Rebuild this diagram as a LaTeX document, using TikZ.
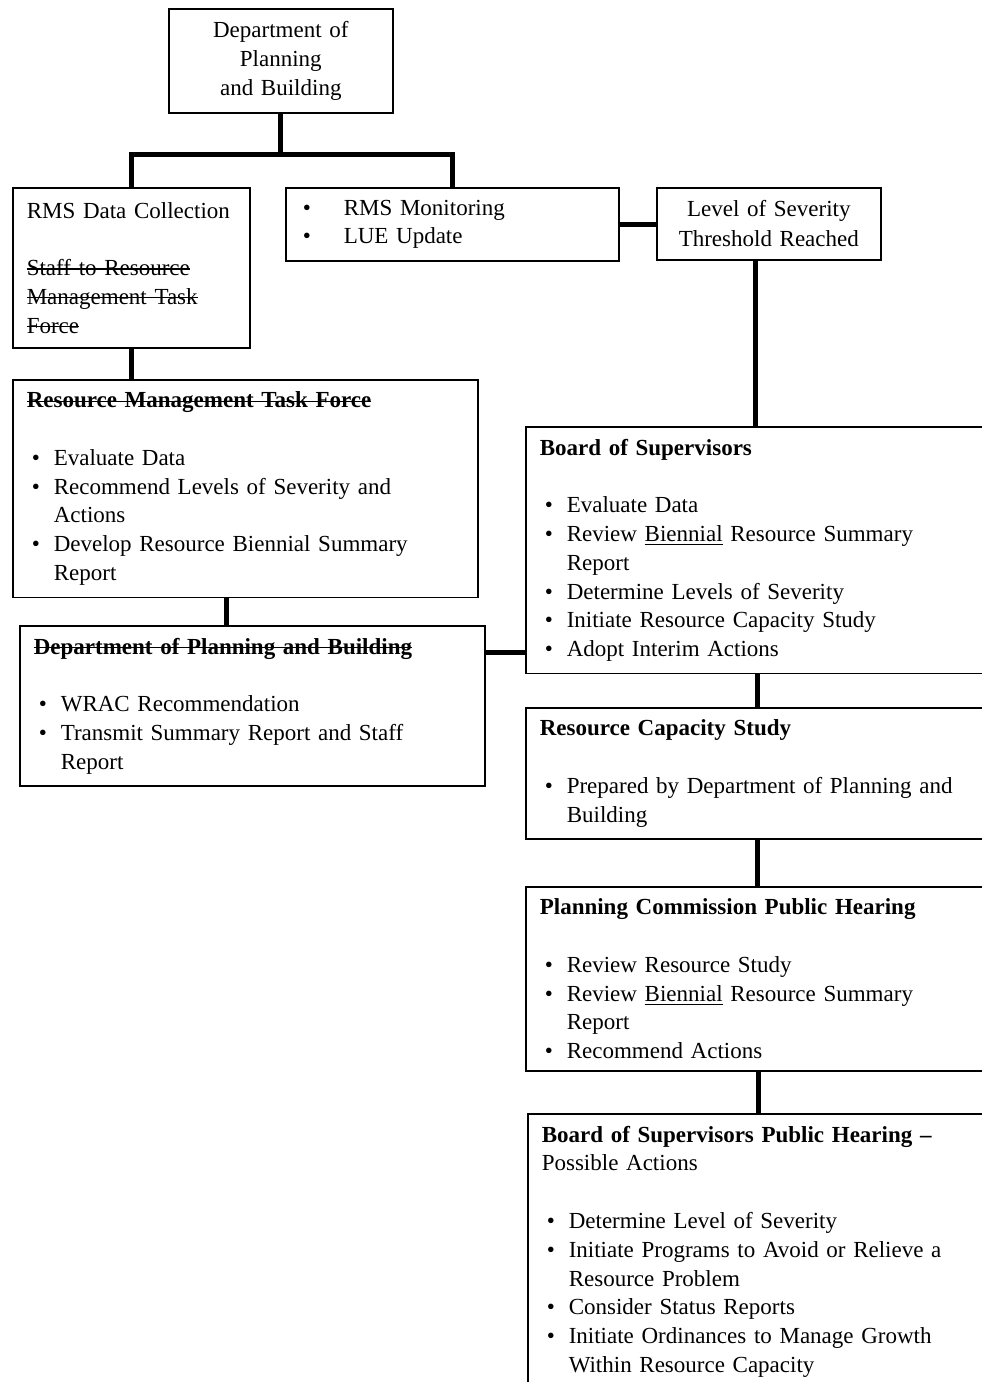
\documentclass[tikz,border=0pt]{standalone}
\usepackage{fontspec}
\setmainfont{Liberation Serif}

\newcommand{\bul}{\hspace*{2.5pt}\makebox[11pt][l]{\textbullet}}
\newcommand{\cnt}{\hspace*{13.5pt}}
\newcommand{\strk}[1]{\setbox0=\hbox{#1}\leavevmode\rlap{\raisebox{0.26em}{\rule{\wd0}{0.6pt}}}\box0}

\begin{document}
\begin{tikzpicture}[x=0.5pt, y=-0.5pt,
    box/.style={draw, line width=0.8pt, inner xsep=7pt, inner ysep=6pt,
                anchor=north west, align=left, font=\fontsize{11.5}{14.4}\selectfont},
    title/.style={box, text width=98pt, align=center, font=\fontsize{11.5}{14.8}\selectfont},
    link/.style={line width=2.5pt}]
\useasboundingbox (0,0) rectangle (981,1382);
% top of the chart
\node[title, font=\fontsize{11.5}{14.5}\selectfont, inner ysep=6.3pt] (dpbtop) at (168,8) {Department of\\Planning\\and Building};
\node[box, text width=104.5pt, minimum height=80pt] (rms) at (12,187) {RMS Data Collection\\[14.4pt]
    \strk{Staff to Resource}\\\strk{Management Task}\\\strk{Force}};
\node[box, text width=152.5pt, minimum height=36pt] (mon) at (285,187) {\hspace*{1.5pt}\makebox[20.5pt][l]{\textbullet}RMS Monitoring\\
    \hspace*{1.5pt}\makebox[20.5pt][l]{\textbullet}LUE Update};
\node[title, minimum height=36pt] (lvl) at (656,187) {Level of Severity\\Threshold Reached};
% left column
\node[box, text width=218.5pt] (rmtf) at (12,379) {\strk{\textbf{Resource Management Task Force}}\\[14.4pt]
    \bul Evaluate Data\\
    \bul Recommend Levels of Severity and\\
    \cnt Actions\\
    \bul Develop Resource Biennial Summary\\
    \cnt Report};
\node[box, text width=218.5pt] (dpb) at (19,625) {\strk{\textbf{Department of Planning and Building}}\\[14.4pt]
    \bul WRAC Recommendation\\
    \bul Transmit Summary Report and Staff\\
    \cnt Report};
% right column
\node[box, text width=223.5pt] (bos) at (525,426) {\textbf{Board of Supervisors}\\[14.4pt]
    \bul Evaluate Data\\
    \bul Review \underline{Biennial} Resource Summary\\
    \cnt Report\\
    \bul Determine Levels of Severity\\
    \bul Initiate Resource Capacity Study\\
    \bul Adopt Interim Actions};
\node[box, text width=223.5pt] (rcs) at (525,707) {\textbf{Resource Capacity Study}\\[14.4pt]
    \bul Prepared by Department of Planning and\\
    \cnt Building};
\node[box, text width=223.5pt] (pc) at (525,886) {\textbf{Planning Commission Public Hearing}\\[14.4pt]
    \bul Review Resource Study\\
    \bul Review \underline{Biennial} Resource Summary\\
    \cnt Report\\
    \bul Recommend Actions};
\node[box, text width=222.5pt] (bosph) at (527,1113) {\textbf{Board of Supervisors Public Hearing --}\\
    Possible Actions\\[14.4pt]
    \bul Determine Level of Severity\\
    \bul Initiate Programs to Avoid or Relieve a\\
    \cnt Resource Problem\\
    \bul Consider Status Reports\\
    \bul Initiate Ordinances to Manage Growth\\
    \cnt Within Resource Capacity};
% connectors
\path (dpbtop.south) ++(0,41) coordinate (split);
\draw[link] (dpbtop.south) -- (split);
\draw[link] (rms.north) |- (split) -| (mon.north);
\draw[link] (mon.east) -- (mon.east -| lvl.west);
\draw[link] (755,0 |- lvl.south) -- (755,0 |- bos.north);
\draw[link] (rms.south) -- (rms.south |- rmtf.north);
\draw[link] (226,0 |- rmtf.south) -- (226,0 |- dpb.north);
\draw[link] (dpb.east |- 0,652) -- (bos.west |- 0,652);
\draw[link] (757,0 |- bos.south) -- (757,0 |- rcs.north);
\draw[link] (757,0 |- rcs.south) -- (757,0 |- pc.north);
\draw[link] (758,0 |- pc.south) -- (758,0 |- bosph.north);
\end{tikzpicture}
\end{document}
